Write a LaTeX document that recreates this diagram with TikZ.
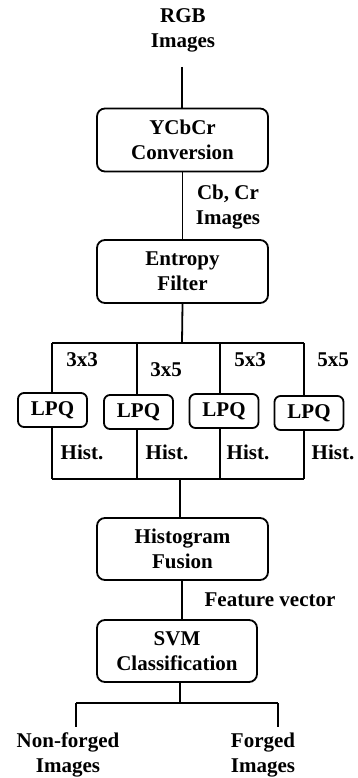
\documentclass[tikz,border=0pt]{standalone}
\usepackage{fontspec}
\setmainfont{Liberation Serif}
\begin{document}
\begin{tikzpicture}[x=1pt,y=-1pt,
  every node/.style={font=\fontsize{21}{25}\selectfont\bfseries, align=center, inner sep=0pt},
  bigbox/.style={draw, line width=1.8pt, rounded corners=8pt, minimum width=171pt, minimum height=63pt},
  lpqbox/.style={draw, line width=1.8pt, rounded corners=6pt, minimum width=69pt, minimum height=34pt},
  conn/.style={line width=1.8pt},
  lbl/.style={}]
\useasboundingbox (0,0) rectangle (357,778);
% text and boxes
\node[lbl] (rgb) at (183,30) {RGB\\Images};
\node[bigbox] (ycc) at (182.5,140) {YCbCr\\Conversion};
\node[lbl] (cbcr) at (228,207) {Cb, Cr\\Images};
\node[bigbox] (ent) at (182.5,271.5) {Entropy\\Filter};
\node[lpqbox] (lpq1) at (52.5,410) {LPQ};
\node[lpqbox] (lpq2) at (138.5,412) {LPQ};
\node[lpqbox] (lpq3) at (224,411) {LPQ};
\node[lpqbox] (lpq4) at (309,413) {LPQ};
\node[lbl] (k1) at (82,360) {3x3};
\node[lbl] (k2) at (166,370) {3x5};
\node[lbl] (k3) at (250,360) {5x3};
\node[lbl] (k4) at (333,360) {5x5};
\node[lbl] (h1) at (82,452) {Hist.};
\node[lbl] (h2) at (167,452) {Hist.};
\node[lbl] (h3) at (248,452) {Hist.};
\node[lbl] (h4) at (333,452) {Hist.};
\node[bigbox, minimum height=62pt] (hf) at (182.5,549) {Histogram\\Fusion};
\node[lbl] (fv) at (270,600) {Feature vector};
\node[bigbox, minimum width=160pt, minimum height=62pt] (svm) at (177,651) {SVM\\Classification};
\node[lbl] (nf) at (68,755) {Non-forged\\Images};
\node[lbl] (fg) at (263,755) {Forged\\Images};
% coordinates
\coordinate (c0) at (182,67);
\coordinate (b0) at (182,343);
\coordinate (t1) at (52,343);
\coordinate (t2) at (137,343);
\coordinate (t3) at (220,343);
\coordinate (t4) at (304,343);
\coordinate (b1) at (52,479);
\coordinate (b2) at (137,479);
\coordinate (b3) at (220,479);
\coordinate (b4) at (304,479);
\coordinate (m0) at (180,479);
\coordinate (s0) at (180,703);
\coordinate (o1) at (76,703);
\coordinate (o2) at (278,703);
\coordinate (e1) at (76,727);
\coordinate (e2) at (278,727);
% connectors
\draw[conn] (c0) -- (c0 |- ycc.north);
\draw[conn] (ycc.south) -- (ent.north);
\draw[conn] (ent.south) -- (b0);
\draw[conn] (t1) -- (t4);
\draw[conn] (t1) -- (t1 |- lpq1.north);
\draw[conn] (t2) -- (t2 |- lpq2.north);
\draw[conn] (t3) -- (t3 |- lpq3.north);
\draw[conn] (t4) -- (t4 |- lpq4.north);
\draw[conn] (b1 |- lpq1.south) -- (b1);
\draw[conn] (b2 |- lpq2.south) -- (b2);
\draw[conn] (b3 |- lpq3.south) -- (b3);
\draw[conn] (b4 |- lpq4.south) -- (b4);
\draw[conn] (b1) -- (b4);
\draw[conn] (m0) -- (m0 |- hf.north);
\draw[conn] (hf.south -| c0) -- (c0 |- svm.north);
\draw[conn] (s0 |- svm.south) -- (s0);
\draw[conn] (o1) -- (o2);
\draw[conn] (o1) -- (e1);
\draw[conn] (o2) -- (e2);
\end{tikzpicture}
\end{document}
